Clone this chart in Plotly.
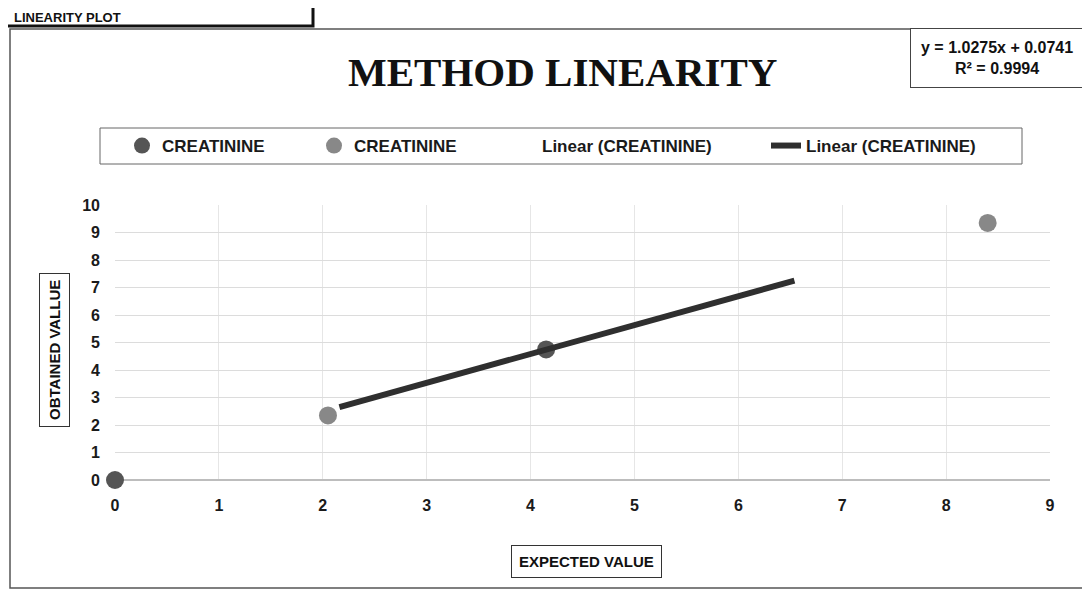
import plotly.graph_objects as go

# ---- data ----
series1_x = [0.0, 4.15]
series1_y = [0.0, 4.75]
series2_x = [2.05, 8.4]
series2_y = [2.35, 9.35]
trend_x = [2.16, 6.54]
trend_y = [2.65, 7.25]
x_ticks = [0, 1, 2, 3, 4, 5, 6, 7, 8, 9]
y_ticks = [0, 1, 2, 3, 4, 5, 6, 7, 8, 9, 10]
series_name = "CREATININE"
trend_name = "Linear (CREATININE)"
equation_text = "y = 1.0275x + 0.0741<br>R² = 0.9994"

OFF = 8  # page body margin
W, H = 1090 - OFF, 592 - OFF
L, R, T, B = 107, 40, 197, 112
PW, PH = W - L - R, H - T - B


def px(x):
    return (x - OFF - L) / PW


def py(y):
    return (H - B - (y - OFF)) / PH


FONT = "Liberation Sans, Arial"

fig = go.Figure()
fig.add_trace(go.Scatter(x=series1_x, y=series1_y, mode="markers", name=series_name,
                         marker=dict(size=18, color="#555555", symbol="circle"),
                         cliponaxis=False, legend="legend"))
fig.add_trace(go.Scatter(x=series2_x, y=series2_y, mode="markers", name=series_name,
                         marker=dict(size=18, color="#888888", symbol="circle"),
                         cliponaxis=False, legend="legend2"))
fig.add_trace(go.Scatter(x=[None], y=[None], mode="lines", name=trend_name,
                         line=dict(color="rgba(0,0,0,0)", width=0), legend="legend3"))
fig.add_trace(go.Scatter(x=trend_x, y=trend_y, mode="lines", name=trend_name,
                         line=dict(color="#2f2f2f", width=6), legend="legend4"))

axis_font = dict(family=FONT, size=16, color="#1a1a1a", weight="bold")
leg_font = dict(family=FONT, size=17, color="#1a1a1a", weight="bold")


def leg(xpix):
    return dict(orientation="h", x=px(xpix), y=py(146), xanchor="left", yanchor="middle",
                bgcolor="rgba(0,0,0,0)", borderwidth=0, font=leg_font, itemwidth=30)


fig.update_layout(
    width=W, height=H,
    margin=dict(l=L, r=R, t=T, b=B),
    paper_bgcolor="white", plot_bgcolor="white",
    showlegend=True,
    legend=leg(122), legend2=leg(314), legend3=leg(502), legend4=leg(766),
    xaxis=dict(range=[0, 9], tickvals=x_ticks, showgrid=True, gridcolor="#e6e6e6",
               zeroline=False, showline=False, ticks="", tickfont=axis_font,
               ticklabelstandoff=14),
    yaxis=dict(range=[0, 10], tickvals=y_ticks, showgrid=True, gridcolor="#dcdcdc",
               zeroline=True, zerolinecolor="#bdbdbd", showline=False, ticks="",
               tickfont=axis_font, ticklabelstandoff=14),
)

annotations = [
    dict(text="<b>METHOD LINEARITY</b>", x=px(562), y=py(72), xref="paper", yref="paper",
         xanchor="center", yanchor="middle", showarrow=False,
         font=dict(family="Liberation Serif, DejaVu Serif, serif", size=41, color="#111")),
    dict(text="<b>" + equation_text + "</b>", x=px(1084), y=py(28), xref="paper",
         yref="paper", xanchor="right", yanchor="top", showarrow=False, align="center",
         font=dict(family=FONT, size=16, color="#111"), bordercolor="#444", borderwidth=1,
         borderpad=10, bgcolor="white"),
    dict(text="<b>OBTAINED VALLUE</b>", x=px(54), y=py(350), xref="paper", yref="paper",
         xanchor="center", yanchor="middle", textangle=-90, showarrow=False,
         font=dict(family=FONT, size=15, color="#111"),
         bordercolor="#333", borderwidth=1, borderpad=6, bgcolor="white"),
    dict(text="<b>EXPECTED VALUE</b>", x=px(586), y=py(561), xref="paper", yref="paper",
         xanchor="center", yanchor="middle", showarrow=False,
         font=dict(family=FONT, size=15, color="#111"),
         bordercolor="#333", borderwidth=1, borderpad=7, bgcolor="white"),
    dict(text="<b>LINEARITY PLOT</b>", x=px(12), y=py(OFF), xref="paper", yref="paper",
         xanchor="left", yanchor="top", showarrow=False,
         font=dict(family=FONT, size=13, color="#111")),
]
fig.update_layout(annotations=annotations)

# outer chart frame and legend frame
fig.add_shape(type="rect", xref="paper", yref="paper", x0=px(10), x1=px(1085),
              y0=py(588), y1=py(29), line=dict(color="#555", width=1.5), layer="below")
fig.add_shape(type="rect", xref="paper", yref="paper", x0=px(100), x1=px(1022),
              y0=py(164), y1=py(128), line=dict(color="#666", width=1), layer="below")
# top-left title box
fig.add_shape(type="rect", xref="paper", yref="paper", x0=px(-20), x1=px(313),
              y0=py(26), y1=py(-30), line=dict(color="#111", width=3))

fig.write_html("out.html")
